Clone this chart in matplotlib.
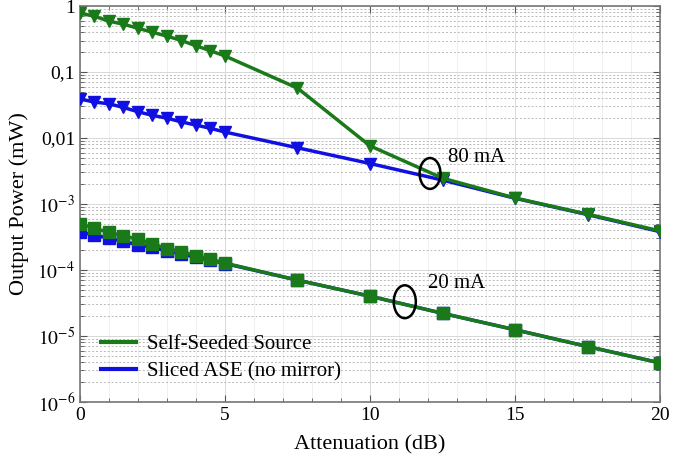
import matplotlib
matplotlib.use("Agg")
import matplotlib.pyplot as plt
from matplotlib.patches import Ellipse
from matplotlib.ticker import FixedLocator, FixedFormatter, MultipleLocator, LogLocator
import numpy as np

plt.rcParams['font.family'] = ['Liberation Serif', 'DejaVu Serif']
plt.rcParams['mathtext.fontset'] = 'stix'

# attenuation steps (dB)
att = [0, 0.5, 1, 1.5, 2, 2.5, 3, 3.5, 4, 4.5, 5, 7.5, 10, 12.5, 15, 17.5, 20]

# 80 mA
seeded_80 = [0.78, 0.70, 0.59, 0.53, 0.46, 0.40, 0.35, 0.30, 0.25, 0.21, 0.175,
             0.057, 0.0076, 0.00246, 0.00123, 0.00070, 0.00039]
ase_80 = [0.039, 0.035, 0.033, 0.029, 0.025, 0.022, 0.020, 0.0175, 0.0157, 0.014, 0.0123,
          0.0071, 0.0041, 0.0023, 0.00122, 0.00069, 0.00038]

# 20 mA
seeded_20 = [5.0e-4, 4.3e-4, 3.7e-4, 3.3e-4, 2.9e-4, 2.5e-4, 2.1e-4, 1.9e-4, 1.64e-4, 1.45e-4, 1.27e-4,
             7.0e-5, 4.0e-5, 2.2e-5, 1.24e-5, 6.9e-6, 3.9e-6]
ase_20 = [3.7e-4, 3.4e-4, 3.0e-4, 2.7e-4, 2.4e-4, 2.2e-4, 1.95e-4, 1.75e-4, 1.55e-4, 1.4e-4, 1.25e-4,
          7.0e-5, 4.0e-5, 2.2e-5, 1.24e-5, 6.9e-6, 3.9e-6]

ytick_vals = [1e-6, 1e-5, 1e-4, 1e-3, 1e-2, 1e-1, 1]
ytick_labels = [r'$10^{-6}$', r'$10^{-5}$', r'$10^{-4}$', r'$10^{-3}$', '0,01', '0,1', '1']

green = '#1a7a1a'
blue = '#1010e0'

fig = plt.figure(figsize=(6.89, 4.63), dpi=100)
ax = fig.add_axes([0.116, 0.132, 0.842, 0.855])

ax.plot(att, ase_80, color=blue, lw=2.5, marker='v', ms=8, zorder=3)
ax.plot(att, ase_20, color=blue, lw=2.5, marker='s', ms=8.5, zorder=3)
ax.plot(att, seeded_80, color=green, lw=2.5, marker='v', ms=8, zorder=4)
ax.plot(att, seeded_20, color=green, lw=2.5, marker='s', ms=8.5, zorder=4)

ax.set_yscale('log')
ax.set_xlim(0, 20)
ax.set_ylim(1e-6, 1)
ax.yaxis.set_major_locator(FixedLocator(ytick_vals))
ax.yaxis.set_major_formatter(FixedFormatter(ytick_labels))
ax.yaxis.set_minor_locator(LogLocator(base=10, subs=np.arange(2, 10)))
ax.xaxis.set_major_locator(MultipleLocator(5))
ax.xaxis.set_minor_locator(MultipleLocator(1))

ax.grid(which='major', color='#d8d8d8', ls='-', lw=0.7)
ax.grid(which='minor', axis='y', color='#b8b8b8', ls=(0, (2, 2)), lw=0.7)
ax.grid(which='minor', axis='x', color='#ececec', ls='-', lw=0.6)
ax.set_axisbelow(True)

ax.tick_params(which='both', direction='in', top=True, right=True, colors='#555555',
               labelcolor='black', labelsize=14)
ax.tick_params(which='major', length=5)
ax.tick_params(which='minor', length=3)
for s in ax.spines.values():
    s.set_color('#777777')
    s.set_linewidth(1.2)

ax.set_xlabel('Attenuation (dB)', fontsize=16, labelpad=8)
ax.set_ylabel('Output Power (mW)', fontsize=16, labelpad=6)

# current annotations
ax.add_patch(Ellipse((0.6035, 0.577), 0.036, 0.078, transform=ax.transAxes,
                     fill=False, ec='black', lw=1.8, zorder=5))
ax.text(12.7, 0.0051, '80 mA', fontsize=15, va='center', ha='left')
ax.add_patch(Ellipse((0.56, 0.253), 0.038, 0.083, transform=ax.transAxes,
                     fill=False, ec='black', lw=1.8, zorder=5))
ax.text(12.0, 6.3e-5, '20 mA', fontsize=15, va='center', ha='left')

h1, = ax.plot([], [], color=green, lw=3, label='Self-Seeded Source')
h2, = ax.plot([], [], color=blue, lw=3, label='Sliced ASE (no mirror)')
ax.legend(handles=[h1, h2], loc='lower left', bbox_to_anchor=(0.0, 0.0), frameon=False,
          fontsize=15, handlelength=1.7, handletextpad=0.5, labelspacing=0.35, borderaxespad=0.6)

fig.savefig('out.png', dpi=100)
